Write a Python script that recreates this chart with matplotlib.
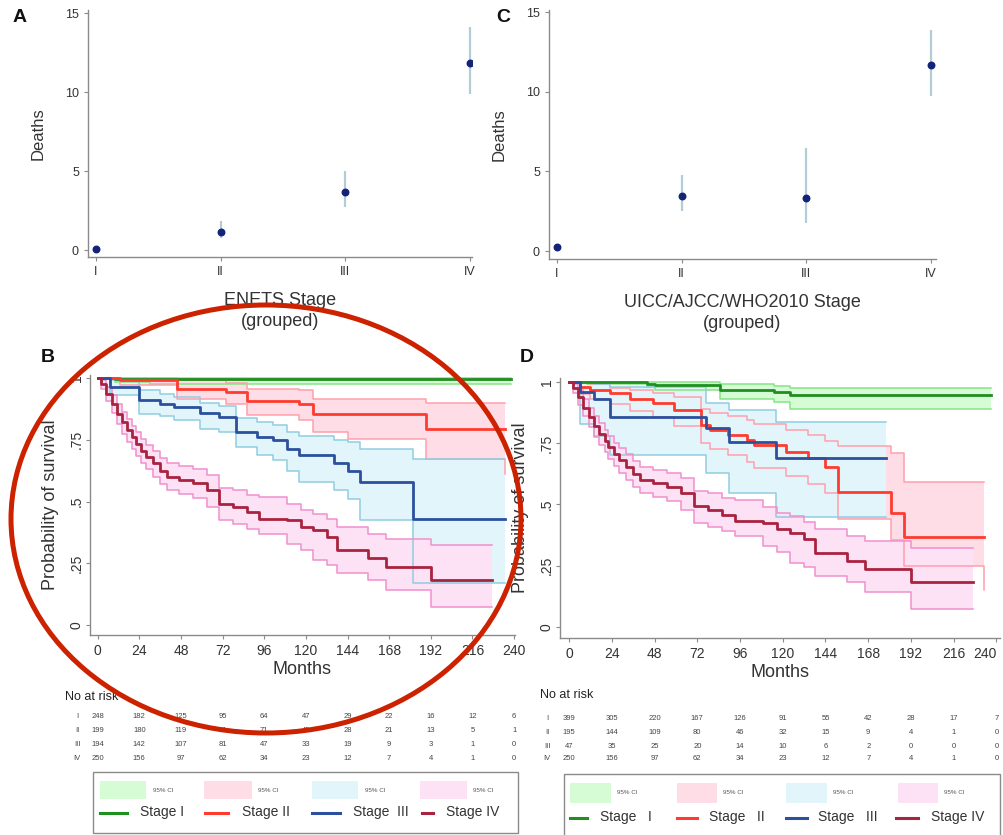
import matplotlib
matplotlib.use("Agg")
import matplotlib.pyplot as plt
import matplotlib.font_manager as fm
from matplotlib.patches import Ellipse, Rectangle
from matplotlib.lines import Line2D
import matplotlib.transforms as mtrans

names = {f.name for f in fm.fontManager.ttflist}
MAIN = 'Liberation Sans' if 'Liberation Sans' in names else 'DejaVu Sans'
NARROW = 'Liberation Sans Narrow' if 'Liberation Sans Narrow' in names else MAIN
plt.rcParams['font.family'] = [MAIN, 'DejaVu Sans']

# ---------------- data ----------------
stages = ['I', 'II', 'III', 'IV']

# Panel A (ENETS)
a_deaths = [0.04, 1.12, 3.7, 11.85]
a_lo = [0.0, 0.76, 2.74, 9.87]
a_hi = [0.1, 1.85, 5.02, 14.1]
# Panel C (UICC/AJCC/WHO2010)
c_deaths = [0.27, 3.45, 3.31, 11.68]
c_lo = [0.1, 2.53, 1.74, 9.73]
c_hi = [0.45, 4.77, 6.45, 13.9]

months_ticks = [0, 24, 48, 72, 96, 120, 144, 168, 192, 216, 240]

# Panel B KM (ENETS)
b1_t = [0, 10, 30, 238]
b1_s = [1, 0.997, 0.996, 0.996]
b1_lo = [1, 0.985, 0.975, 0.975]
b1_hi = [1, 1, 1, 1]

b2_t = [0, 13, 46, 74, 86, 116, 124, 144, 189, 235]
b2_s = [1, 0.99, 0.954, 0.943, 0.907, 0.896, 0.856, 0.856, 0.792, 0.792]
b2_hi = [1, 1, 0.99, 0.98, 0.955, 0.95, 0.916, 0.916, 0.9, 0.9]
b2_lo = [1, 0.97, 0.915, 0.895, 0.85, 0.83, 0.78, 0.752, 0.674, 0.61]

b3_t = [0, 7, 24, 36, 44, 59, 70, 80, 92, 101, 109, 116, 136, 144, 151, 182, 235]
b3_s = [1, 0.964, 0.91, 0.896, 0.883, 0.858, 0.842, 0.782, 0.761, 0.748, 0.714, 0.687, 0.654, 0.624, 0.58, 0.431, 0.431]
b3_hi = [1, 0.99, 0.95, 0.937, 0.925, 0.9, 0.885, 0.84, 0.82, 0.81, 0.78, 0.765, 0.748, 0.74, 0.714, 0.671, 0.671]
b3_lo = [1, 0.93, 0.856, 0.845, 0.829, 0.795, 0.78, 0.72, 0.69, 0.668, 0.625, 0.58, 0.545, 0.51, 0.425, 0.17, 0.17]

b4_t = [0, 2, 5, 8, 11, 14, 17, 20, 22, 25, 28, 32, 36, 40, 47, 55, 63, 70, 78, 86, 93, 109, 117, 124, 132, 138, 156, 166, 192, 227]
b4_s = [1, 0.975, 0.937, 0.895, 0.856, 0.82, 0.788, 0.76, 0.734, 0.705, 0.681, 0.654, 0.625, 0.6, 0.586, 0.573, 0.546, 0.492, 0.478, 0.458, 0.431, 0.425, 0.398, 0.384, 0.357, 0.303, 0.27, 0.236, 0.182, 0.182]
b4_hi = [1, 0.99, 0.965, 0.93, 0.895, 0.862, 0.832, 0.805, 0.78, 0.752, 0.73, 0.705, 0.678, 0.654, 0.642, 0.63, 0.606, 0.556, 0.546, 0.526, 0.519, 0.49, 0.465, 0.451, 0.43, 0.398, 0.37, 0.35, 0.323, 0.323]
b4_lo = [1, 0.955, 0.905, 0.86, 0.815, 0.775, 0.742, 0.712, 0.685, 0.655, 0.63, 0.6, 0.572, 0.546, 0.53, 0.515, 0.478, 0.425, 0.41, 0.39, 0.37, 0.33, 0.305, 0.263, 0.245, 0.209, 0.182, 0.142, 0.074, 0.074]

# Panel D KM (UICC/AJCC/WHO2010)
d1_t = [0, 10, 44, 48, 85, 115, 124, 237]
d1_s = [1, 1, 0.993, 0.986, 0.969, 0.959, 0.946, 0.946]
d1_hi = [1, 1, 1, 0.998, 0.99, 0.985, 0.976, 0.976]
d1_lo = [1, 0.99, 0.98, 0.966, 0.932, 0.919, 0.891, 0.891]

d2_t = [0, 6, 12, 23, 34, 47, 59, 74, 79, 89, 100, 104, 122, 134, 144, 151, 181, 188, 233]
d2_s = [1, 0.98, 0.966, 0.953, 0.932, 0.912, 0.885, 0.824, 0.803, 0.783, 0.763, 0.742, 0.715, 0.688, 0.654, 0.552, 0.464, 0.369, 0.369]
d2_hi = [1, 1, 0.99, 0.975, 0.966, 0.955, 0.94, 0.89, 0.875, 0.86, 0.845, 0.83, 0.805, 0.785, 0.76, 0.74, 0.708, 0.593, 0.593]
d2_lo = [1, 0.95, 0.93, 0.91, 0.88, 0.855, 0.82, 0.75, 0.725, 0.7, 0.675, 0.65, 0.615, 0.585, 0.545, 0.44, 0.355, 0.25, 0.152]

d3_t = [0, 6, 14, 23, 77, 90, 116, 178]
d3_s = [1, 0.959, 0.932, 0.855, 0.81, 0.756, 0.688, 0.688]
d3_hi = [1, 1, 0.99, 0.98, 0.912, 0.885, 0.837, 0.837]
d3_lo = [1, 0.83, 0.78, 0.7, 0.63, 0.545, 0.45, 0.45]

d4_t, d4_s, d4_hi, d4_lo = b4_t, b4_s, b4_hi, b4_lo

# numbers at risk
b_risk = {
    'I':   [248, 182, 125, 95, 64, 47, 29, 22, 16, 12, 6],
    'II':  [199, 180, 119, 91, 71, 45, 28, 21, 13, 5, 1],
    'III': [194, 142, 107, 81, 47, 33, 19, 9, 3, 1, 0],
    'IV':  [250, 156, 97, 62, 34, 23, 12, 7, 4, 1, 0],
}
d_risk = {
    'I':   [399, 305, 220, 167, 126, 91, 55, 42, 28, 17, 7],
    'II':  [195, 144, 109, 80, 46, 32, 15, 9, 4, 1, 0],
    'III': [47, 35, 25, 20, 14, 10, 6, 2, 0, 0, 0],
    'IV':  [250, 156, 97, 62, 34, 23, 12, 7, 4, 1, 0],
}

# ---------------- style ----------------
line_col = ['#1f8f1f', '#ff3b2f', '#2c4f9e', '#a8233f']
fill_col = ['#d6fcd6', '#ffdde6', '#e2f5fa', '#fde2f5']
edge_col = ['#86e486', '#ff9fae', '#90cde0', '#f090cc']
text_col = '#333333'
spine_col = '#8a8a8a'

W, H = 1004, 835
fig = plt.figure(figsize=(W / 100, H / 100), dpi=100)


def add_ax(l, t, r, b):
    return fig.add_axes([l / W, 1 - b / H, (r - l) / W, (b - t) / H])


def style_axes(ax):
    for s in ['top', 'right']:
        ax.spines[s].set_visible(False)
    for s in ['left', 'bottom']:
        ax.spines[s].set_color(spine_col)
        ax.spines[s].set_linewidth(1.0)
    ax.tick_params(colors=spine_col, labelcolor=text_col, length=3, width=0.8)


def dot_panel(ax, vals, lo, hi, xlabel, xlim, ylim):
    x = list(range(1, len(stages) + 1))
    ax.vlines(x, lo, hi, color='#b3ccd8', lw=1.6, zorder=2)
    ax.scatter(x, vals, s=22, color='#13237a', zorder=3)
    ax.set_xlim(*xlim)
    ax.set_ylim(*ylim)
    ax.set_xticks(x)
    ax.set_xticklabels(stages, fontsize=9, family=NARROW)
    ax.set_yticks([0, 5, 10, 15])
    ax.set_yticklabels(['0', '5', '10', '15'], fontsize=9, family=NARROW)
    style_axes(ax)
    ax.set_ylabel('Deaths', fontsize=12, color=text_col, labelpad=14)
    ax.set_xlabel(xlabel, fontsize=13, color=text_col, labelpad=10, linespacing=1.3)


def km_panel(ax, curves, xlim, ylim):
    for i, (t, s, lo, hi) in enumerate(curves):
        ax.fill_between(t, lo, hi, step='post', color=fill_col[i], lw=0, zorder=1 + i * 0.01)
    for i, (t, s, lo, hi) in enumerate(curves):
        ax.step(t, lo, where='post', color=edge_col[i], lw=1.1, zorder=2)
        ax.step(t, hi, where='post', color=edge_col[i], lw=1.1, zorder=2)
    for i, (t, s, lo, hi) in enumerate(curves):
        ax.step(t, s, where='post', color=line_col[i], lw=2.0, zorder=3)
    ax.set_xlim(*xlim)
    ax.set_ylim(*ylim)
    ax.set_xticks(months_ticks)
    ax.set_xticklabels([str(m) for m in months_ticks], fontsize=10, family=NARROW)
    ax.set_yticks([0, 0.25, 0.5, 0.75, 1])
    ax.set_yticklabels(['0', '.25', '.5', '.75', '1'], fontsize=10, family=NARROW,
                       rotation=90, va='center')
    style_axes(ax)
    ax.tick_params(axis='y', pad=1.5)
    ax.set_ylabel('Probability of survival', fontsize=13, color=text_col, labelpad=8)
    ax.set_xlabel('Months', fontsize=13, color=text_col, labelpad=2)


def risk_table(ax, risk, label_x, header_y, row_y, header_x):
    tr = mtrans.blended_transform_factory(ax.transData, fig.transFigure)
    fig.text(header_x / W, 1 - header_y / H, 'No at risk', fontsize=9, color='#222222',
             va='center', ha='left')
    for j, key in enumerate(stages):
        yy = 1 - row_y[j] / H
        fig.text(label_x / W, yy, key, fontsize=5.5, color='#444444', va='center', ha='center')
        for m, v in zip(months_ticks, risk[key]):
            ax.text(m, yy, str(v), transform=tr, fontsize=5.5, color='#444444',
                    va='center', ha='center', clip_on=False)


# Panel A
axA = add_ax(88, 10, 472, 257)
dot_panel(axA, a_deaths, a_lo, a_hi, 'ENETS Stage\n(grouped)', (0.936, 4.016), (-0.44, 15.2))
# Panel C
axC = add_ax(549, 10, 936, 259)
dot_panel(axC, c_deaths, c_lo, c_hi, 'UICC/AJCC/WHO2010 Stage\n(grouped)', (0.936, 4.04), (-0.5, 15.13))

# Panel B
axB = add_ax(90, 375, 515, 635)
km_panel(axB, [(b1_t, b1_s, b1_lo, b1_hi), (b2_t, b2_s, b2_lo, b2_hi),
               (b3_t, b3_s, b3_lo, b3_hi), (b4_t, b4_s, b4_lo, b4_hi)],
         (-4.4, 240.5), (-0.04, 1.012))
risk_table(axB, b_risk, 77, 697, [717, 731, 745, 759], 65)

# Panel D
axD = add_ax(560, 378, 1000, 638)
km_panel(axD, [(d1_t, d1_s, d1_lo, d1_hi), (d2_t, d2_s, d2_lo, d2_hi),
               (d3_t, d3_s, d3_lo, d3_hi), (d4_t, d4_s, d4_lo, d4_hi)],
         (-5.1, 242), (-0.045, 1.016))
axD.get_xticklabels()[-1].set_horizontalalignment('right')
risk_table(axD, d_risk, 547, 695, [719, 733, 746, 759], 540)

# overlay in pixel coordinates
ov = fig.add_axes([0, 0, 1, 1], zorder=10)
ov.set_xlim(0, W)
ov.set_ylim(H, 0)
ov.axis('off')
ov.patch.set_alpha(0)

for lab, (x, y) in zip(['A', 'C', 'B', 'D'], [(20, 18), (503, 18), (48, 357), (527, 357)]):
    ov.text(x, y, lab, fontsize=14, fontweight='bold', color='#111111', ha='center', va='center')


def legend_box(box, patch_x, patch_y, text_x, line_x, line_y, stext_x, stage_labels):
    x0, y0, x1, y1 = box
    ov.add_patch(Rectangle((x0, y0), x1 - x0, y1 - y0, fill=False, ec='#8a8a8a', lw=1.0))
    for i in range(4):
        px0, px1 = patch_x[i]
        ov.add_patch(Rectangle((px0, patch_y[0]), px1 - px0, patch_y[1] - patch_y[0],
                               fc=fill_col[i], ec='none'))
        ov.text(text_x[i], (patch_y[0] + patch_y[1]) / 2, '95% CI', fontsize=4.5,
                color='#555555', va='center', ha='left')
        lx0, lx1 = line_x[i]
        ov.add_line(Line2D([lx0, lx1], [line_y, line_y], color=line_col[i], lw=2.2))
        ov.text(stext_x[i], line_y - 1, stage_labels[i], fontsize=10, color=text_col,
                va='center', ha='left')


legend_box((93, 772, 518, 833), [(100, 146), (204, 252), (312, 358), (420, 467)], (781, 799),
           [153, 258, 365, 473], [(100, 127), (205, 228), (312, 340), (422, 433)], 813,
           [140, 242, 353, 446], ['Stage I', 'Stage II', 'Stage  III', 'Stage IV'])
legend_box((564, 774, 1000, 845), [(570, 611), (677, 717), (786, 827), (898, 938)], (783, 803),
           [617, 723, 833, 944], [(570, 587), (677, 697), (786, 807), (896, 918)], 818,
           [600, 709, 818, 931], ['Stage   I', 'Stage   II', 'Stage   III', 'Stage IV'])

ov.add_patch(Ellipse((266, 519), 510, 428, fill=False, ec='#cc2200', lw=3.6))

fig.savefig('out.png', dpi=100)
